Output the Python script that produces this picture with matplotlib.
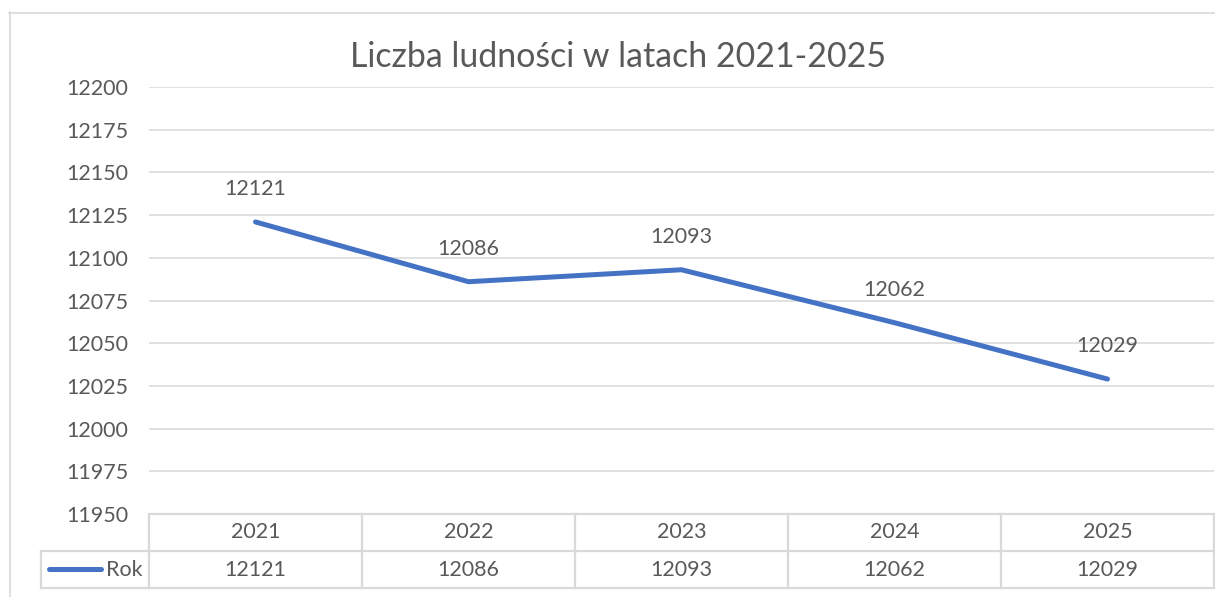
import matplotlib
matplotlib.use("Agg")
import matplotlib.pyplot as plt
from matplotlib.transforms import blended_transform_factory
from matplotlib.lines import Line2D

years = ["2021", "2022", "2023", "2024", "2025"]
values = [12121, 12086, 12093, 12062, 12029]
series_name = "Rok"
title = "Liczba ludności w latach 2021-2025"
y_ticks = [11950, 11975, 12000, 12025, 12050, 12075, 12100, 12125, 12150, 12175, 12200]

W, H = 1215, 597
TXT = "#595959"
GRID = "#D9D9D9"
BLUE = "#4472C4"
FONT = ["Lato", "DejaVu Sans"]
FS = 15.5
plt.rcParams["font.family"] = FONT

fig = plt.figure(figsize=(W / 100, H / 100), dpi=100)
ax = fig.add_axes([149 / W, 1 - 514 / H, (1214 - 149) / W, (514 - 87) / H])

x = list(range(len(years)))
ax.plot(x, values, color=BLUE, lw=3.6, solid_capstyle="round", solid_joinstyle="round", zorder=3)
for xi, v in zip(x, values):
    ax.annotate(str(v), (xi, v), xytext=(0, 23.5), textcoords="offset points",
                ha="center", va="center", fontsize=FS, color=TXT)

ax.set_xlim(-0.5, len(years) - 0.5)
ax.set_ylim(y_ticks[0], y_ticks[-1])
ax.set_yticks(y_ticks)
ax.set_yticklabels([str(t) for t in y_ticks], fontsize=FS, color=TXT)
ax.tick_params(axis="y", length=0, pad=15)
ax.set_xticks([])
ax.grid(axis="y", color=GRID, lw=1.1)
ax.set_axisbelow(True)
for s in ax.spines.values():
    s.set_visible(False)

# data table
tr = blended_transform_factory(ax.transData, ax.transAxes)
rh = 37 / 427
n = len(years)
lkw = dict(color=GRID, lw=1.6, clip_on=False, transform=tr)
ax.add_line(Line2D([-0.5, n - 0.5], [0, 0], **lkw))
ax.add_line(Line2D([-0.5, n - 0.5], [-rh, -rh], **lkw))
ax.add_line(Line2D([-0.5, n - 0.5], [-2 * rh, -2 * rh], **lkw))
for b in range(n + 1):
    ax.add_line(Line2D([b - 0.5, b - 0.5], [0, -2 * rh], **lkw))
for i, (yr, v) in enumerate(zip(years, values)):
    ax.text(i, -0.5 * rh, yr, transform=tr, ha="center", va="center", fontsize=FS, color=TXT)
    ax.text(i, -1.5 * rh, str(v), transform=tr, ha="center", va="center", fontsize=FS, color=TXT)

# legend cell (figure pixel coords)
def fx(px):
    return px / W

def fy(py):
    return 1 - py / H

fkw = dict(color=GRID, lw=1.6, transform=fig.transFigure)
fig.add_artist(Line2D([fx(41), fx(149)], [fy(551), fy(551)], **fkw))
fig.add_artist(Line2D([fx(41), fx(149)], [fy(588), fy(588)], **fkw))
fig.add_artist(Line2D([fx(41), fx(41)], [fy(551), fy(588)], **fkw))
fig.add_artist(Line2D([fx(49), fx(101)], [fy(568.5), fy(568.5)], color=BLUE, lw=3.6,
                      solid_capstyle="round", transform=fig.transFigure))
fig.text(fx(106), fy(569.5), series_name, ha="left", va="center", fontsize=FS, color=TXT)

# chart border (top & left visible)
fig.add_artist(Line2D([fx(9), fx(1215)], [fy(12.5), fy(12.5)], color=GRID, lw=1.2, transform=fig.transFigure))
fig.add_artist(Line2D([fx(9.5), fx(9.5)], [fy(12), fy(597)], color=GRID, lw=1.2, transform=fig.transFigure))

fig.text(fx(618), fy(57), title, ha="center", va="center", fontsize=24.4, color=TXT)

fig.savefig("out.png", dpi=100)
